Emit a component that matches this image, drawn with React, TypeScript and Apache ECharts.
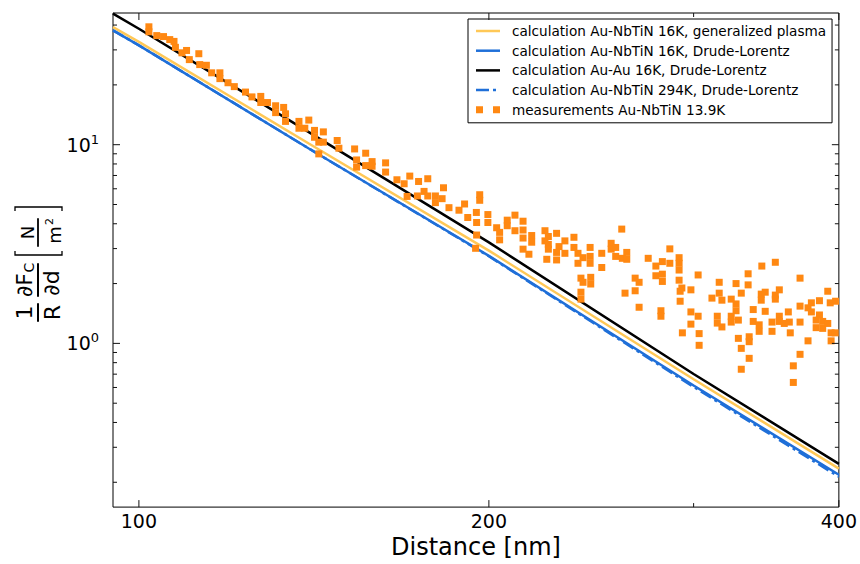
import React, { useEffect, useRef } from 'react';
import * as echarts from 'echarts';

const FONT = 'DejaVu Sans';

const X_MIN = 95;
const X_MAX = 400;
const Y_MIN = 0.15;
const Y_MAX = 46;

// calculated curves (distance in nm, pressure gradient in N/m^2 per R)
const calcDistance = [95, 100, 140, 200, 300, 400];
const plasma16K = [39.08, 32.92, 10.14, 2.931, 0.66, 0.2344];
const drude16K = [37.63, 31.62, 9.57, 2.757, 0.614, 0.2181];
const auAu16K = [45.7, 38.32, 11.56, 3.224, 0.7015, 0.2474];
const drude294K = [37.63, 31.62, 9.57, 2.744, 0.604, 0.2131];

// measurements Au-NbTiN 13.9K
const measDistance = [
  102.0, 102.0, 103.6, 105.0, 106.3, 107.2, 107.5, 108.9, 109.9, 110.5,
  112.6, 112.8, 114.3, 115.5, 117.4, 117.4, 119.3, 120.8, 123.5, 125.1,
  127.3, 127.3, 129.0, 131.1, 131.1, 133.2, 133.7, 133.7, 137.3, 137.3,
  138.9, 140.0, 141.6, 141.6, 144.1, 144.1, 142.8, 142.8, 148.1, 148.6,
  153.3, 153.9, 153.9, 156.7, 156.7, 158.7, 158.7, 163.0, 163.0, 166.7,
  169.1, 171.0, 170.1, 174.0, 177.2, 175.9, 173.6, 177.2, 182.8, 179.9,
  179.9, 182.3, 184.8, 188.5, 190.6, 191.8, 195.1, 196.4, 196.4, 195.2,
  195.2, 194.8, 199.6, 199.6, 203.1, 204.3, 204.3, 207.4, 207.4, 210.6,
  210.6, 214.0, 214.0, 214.0, 214.0, 216.5, 217.7, 217.7, 223.5, 223.5,
  225.0, 225.0, 225.0, 224.3, 228.7, 229.8, 228.7, 228.7, 232.5, 232.5,
  236.7, 236.7, 238.6, 238.6, 241.0, 244.4, 244.4, 244.4, 240.0, 241.0,
  240.0, 240.0, 244.7, 244.7, 260.2, 254.8, 254.8, 250.1, 250.1, 257.1,
  257.1, 260.5, 262.8, 262.8, 267.2, 269.3, 261.9, 267.2, 269.3, 274.2,
  278.4, 278.4, 282.0, 282.0, 282.0, 286.2, 286.2, 291.5, 291.5, 291.5,
  291.5, 293.1, 292.1, 292.1, 281.2, 281.2, 302.7, 298.4, 298.4, 298.4,
  302.7, 293.4, 303.3, 303.3, 311.1, 314.4, 314.4, 315.6, 315.6, 317.3,
  317.3, 323.2, 326.3, 326.3, 326.3, 323.2, 323.2, 327.8, 327.8, 329.7,
  329.7, 329.7, 334.2, 334.2, 334.9, 334.9, 334.9, 337.6, 337.6, 341.6,
  341.6, 343.4, 343.0, 345.7, 343.0, 345.7, 350.4, 350.4, 352.7, 352.7,
  352.7, 355.5, 355.5, 355.5, 359.0, 361.9, 363.3, 362.6, 365.5, 365.5,
  370.4, 370.4, 370.4, 370.4, 376.3, 376.3, 378.8, 378.8, 384.9, 384.9,
  382.4, 382.4, 387.4, 387.4, 391.3, 391.3, 393.2, 393.9, 393.9, 397.4,
  397.1,
];
const measForce = [
  39.2, 37.0, 35.4, 35.0, 33.8, 33.1, 30.9, 29.0, 29.8, 26.8,
  28.7, 25.3, 25.1, 23.0, 23.0, 21.5, 20.5, 19.6, 18.4, 17.4,
  17.5, 16.3, 16.3, 15.7, 14.5, 15.4, 14.3, 13.1, 13.1, 12.1,
  12.1, 13.3, 11.8, 10.9, 11.6, 10.3, 10.3, 8.99, 10.5, 9.6,
  9.52, 8.38, 7.71, 9.06, 7.85, 8.22, 7.79, 8.1, 7.28, 6.66,
  6.36, 6.95, 5.49, 6.53, 6.74, 5.82, 5.52, 5.52, 6.07, 5.52,
  5.11, 5.35, 4.82, 4.68, 5.03, 4.3, 4.56, 5.6, 5.25, 4.06,
  3.51, 3.01, 4.45, 4.06, 3.82, 3.62, 3.32, 4.17, 3.91, 4.42,
  3.69, 4.12, 3.72, 3.39, 2.98, 2.81, 3.49, 3.23, 3.69, 3.28,
  3.45, 3.15, 2.98, 2.65, 3.58, 3.07, 2.87, 2.63, 3.28, 2.84,
  3.42, 3.04, 2.84, 2.53, 2.7, 3.04, 2.74, 2.53, 2.13, 2.03,
  1.81, 1.67, 2.15, 1.99, 3.76, 3.19, 2.98, 2.84, 2.41, 3.04,
  2.74, 2.68, 2.87, 2.65, 2.13, 2.03, 1.79, 1.84, 1.52, 2.68,
  2.45, 2.19, 2.58, 2.23, 2.05, 2.99, 2.53, 2.7, 2.53, 2.34,
  2.08, 1.9, 1.83, 1.63, 1.46, 1.37, 2.21, 1.86, 1.44, 1.25,
  1.37, 1.13, 1.12, 0.978, 1.69, 1.37, 1.265, 2.03, 1.79, 1.65,
  1.21, 1.67, 2.0, 1.58, 1.46, 1.37, 1.28, 1.31, 1.06, 1.79,
  0.944, 0.741, 2.24, 1.97, 1.08, 1.02, 0.841, 1.48, 1.29, 1.24,
  1.15, 2.45, 1.77, 1.81, 1.65, 1.45, 1.28, 1.15, 2.56, 1.75,
  1.67, 1.86, 1.37, 1.29, 1.26, 1.44, 1.13, 1.28, 0.771, 0.636,
  2.13, 1.54, 1.28, 0.881, 1.03, 1.51, 1.6, 1.44, 1.64, 1.39,
  1.31, 1.2, 1.29, 1.19, 1.83, 1.26, 1.6, 1.13, 1.03, 1.63,
  1.13,
];

// ticks
const xTickLabels = [100, 200, 400];
const xMajorTicks = [100, 200, 400];
const xMinorTicks = [300];
const yTickLabels = [1, 10];
const yMajorTicks = [1, 10];
const yMinorTicks = [0.2, 0.3, 0.4, 0.5, 0.6, 0.7, 0.8, 0.9, 2, 3, 4, 5, 6, 7, 8, 9, 20, 30, 40];

const NAMES = [
  'calculation Au-NbTiN 16K, generalized plasma',
  'calculation Au-NbTiN 16K, Drude-Lorentz',
  'calculation Au-Au 16K, Drude-Lorentz',
  'calculation Au-NbTiN 294K, Drude-Lorentz',
  'measurements Au-NbTiN 13.9K',
];

const YELLOW = '#ffc857';
const BLUE = '#1f6fd8';
const ORANGE = '#ff8812';

const MAJOR_LEN = 7;
const MINOR_LEN = 4;

// legend handle shapes (24 x 7 box)
const ICON_SOLID = 'path://M0,0 M0,2.25H24V4.75H0Z M24,7';
const ICON_DASHDOT = 'path://M0,0 M0,2.25H13V4.75H0Z M17,2.25H20V4.75H17Z M24,7';
const ICON_SQUARES = 'path://M0,0H7V7H0Z M17,0H24V7H17Z';

function pairs(xs: number[], ys: number[]) {
  return xs.map((x, i) => [x, ys[i]]);
}

function lineSeries(name: string, ys: number[], color: string, type: any) {
  return {
    name,
    type: 'line',
    data: pairs(calcDistance, ys),
    symbol: 'none',
    showSymbol: false,
    smooth: false,
    lineStyle: { color, width: 2.5, type },
    itemStyle: { color },
    z: 2,
  };
}

export default function App() {
  const ref = useRef<HTMLDivElement>(null);
  useEffect(() => {
    document.body.style.margin = '0';
    const chart = echarts.init(ref.current!, null, { renderer: 'svg' });

    const yTickData = [
      ...yMajorTicks.map((v) => [X_MIN, v, MAJOR_LEN]),
      ...yMinorTicks.map((v) => [X_MIN, v, MINOR_LEN]),
    ];
    const xTickData = [
      ...xMajorTicks.map((v) => [v, Y_MIN, MAJOR_LEN]),
      ...xMinorTicks.map((v) => [v, Y_MIN, MINOR_LEN]),
    ];
    const tickStyle = { stroke: '#111', lineWidth: 1 };

    const option: any = {
      animation: false,
      backgroundColor: '#fff',
      textStyle: { fontFamily: FONT },
      grid: {
        left: 113,
        top: 13,
        right: 20,
        bottom: 54,
        show: true,
        borderColor: '#000',
        borderWidth: 1,
        backgroundColor: 'transparent',
        containLabel: false,
      },
      xAxis: {
        type: 'log',
        logBase: 10,
        min: X_MIN,
        max: X_MAX,
        name: 'Distance [nm]',
        nameLocation: 'middle',
        nameGap: 26,
        nameTextStyle: { fontSize: 24, color: '#000', fontFamily: FONT },
        axisLine: { show: false },
        axisTick: { show: false },
        splitLine: { show: false },
        minorTick: { show: false },
        axisLabel: {
          customValues: xTickLabels,
          margin: 4,
          fontSize: 19,
          color: '#000',
          fontFamily: FONT,
          formatter: (v: number) => String(Math.round(v)),
        },
      },
      yAxis: {
        type: 'log',
        logBase: 10,
        min: Y_MIN,
        max: Y_MAX,
        axisLine: { show: false },
        axisTick: { show: false },
        splitLine: { show: false },
        minorTick: { show: false },
        axisLabel: {
          customValues: yTickLabels,
          margin: 14,
          formatter: (v: number) => `{b|10}{s|${Math.round(Math.log10(v))}}`,
          rich: {
            b: { fontSize: 19, color: '#000', fontFamily: FONT, lineHeight: 24 },
            s: { fontSize: 13, color: '#000', fontFamily: FONT, verticalAlign: 'top', lineHeight: 24 },
          },
        },
      },
      legend: {
        orient: 'vertical',
        left: 468,
        top: 19,
        data: [
          { name: NAMES[0], icon: ICON_SOLID, itemStyle: { color: YELLOW } },
          { name: NAMES[1], icon: ICON_SOLID, itemStyle: { color: BLUE } },
          { name: NAMES[2], icon: ICON_SOLID, itemStyle: { color: '#000' } },
          { name: NAMES[3], icon: ICON_DASHDOT, itemStyle: { color: BLUE } },
          { name: NAMES[4], icon: ICON_SQUARES, itemStyle: { color: ORANGE } },
        ],
        backgroundColor: '#fff',
        borderColor: '#000',
        borderWidth: 1,
        borderRadius: 0,
        padding: [5, 6, 6, 8],
        itemWidth: 24,
        itemHeight: 7,
        itemGap: 5.7,
        selectedMode: false,
        itemStyle: { borderWidth: 0 },
        lineStyle: { width: 0 },
        textStyle: { fontSize: 13.6, color: '#000', fontFamily: FONT, lineHeight: 14, padding: [0, 0, 0, 7] },
      },
      graphic: [
        {
          type: 'group',
          x: 38,
          y: 265,
          rotation: Math.PI / 2,
          silent: true,
          children: [
            { type: 'text', x: -47.5, y: -14, style: { text: '1', fontSize: 22, fontFamily: FONT, fill: '#000', align: 'center', verticalAlign: 'middle' } },
            { type: 'rect', shape: { x: -56.7, y: -1, width: 18.4, height: 2 }, style: { fill: '#000' } },
            { type: 'text', x: -47.5, y: 14, style: { text: 'R', fontSize: 22, fontFamily: FONT, fill: '#000', align: 'center', verticalAlign: 'middle' } },
            { type: 'text', x: -8, y: -14, style: { text: '∂F', fontSize: 22, fontFamily: FONT, fill: '#000', align: 'right', verticalAlign: 'middle' } },
            { type: 'text', x: -7.5, y: -9.5, style: { text: 'C', fontSize: 14, fontFamily: FONT, fill: '#000', align: 'left', verticalAlign: 'middle' } },
            { type: 'rect', shape: { x: -31.7, y: -1, width: 33.4, height: 2 }, style: { fill: '#000' } },
            { type: 'text', x: -18, y: 13, style: { text: '∂d', fontSize: 22, fontFamily: FONT, fill: '#000', align: 'center', verticalAlign: 'middle' } },
            { type: 'polyline', shape: { points: [[14, -23], [10, -23], [10, 24], [14, 24]] }, style: { stroke: '#000', lineWidth: 1.3, fill: null } },
            { type: 'text', x: 32.5, y: -11, style: { text: 'N', fontSize: 18, fontFamily: FONT, fill: '#000', align: 'center', verticalAlign: 'middle' } },
            { type: 'rect', shape: { x: 18.3, y: -0.9, width: 28.4, height: 1.8 }, style: { fill: '#000' } },
            { type: 'text', x: 30, y: 16, style: { text: 'm', fontSize: 18, fontFamily: FONT, fill: '#000', align: 'center', verticalAlign: 'middle' } },
            { type: 'text', x: 40, y: 11, style: { text: '2', fontSize: 11, fontFamily: FONT, fill: '#000', align: 'left', verticalAlign: 'middle' } },
            { type: 'polyline', shape: { points: [[54, -23], [58, -23], [58, 24], [54, 24]] }, style: { stroke: '#000', lineWidth: 1.3, fill: null } },
          ],
        },
      ],
      series: [
        lineSeries(NAMES[0], plasma16K, YELLOW, 'solid'),
        lineSeries(NAMES[1], drude16K, BLUE, 'solid'),
        lineSeries(NAMES[2], auAu16K, '#000', 'solid'),
        lineSeries(NAMES[3], drude294K, BLUE, [12, 4, 3, 4]),
        {
          name: NAMES[4],
          type: 'scatter',
          data: pairs(measDistance, measForce),
          symbol: 'rect',
          symbolSize: 7,
          itemStyle: { color: ORANGE, opacity: 1 },
          z: 3,
        },
        {
          type: 'custom',
          name: 'yticks',
          coordinateSystem: 'cartesian2d',
          silent: true,
          clip: false,
          encode: { x: 0, y: 1 },
          data: yTickData,
          z: 6,
          renderItem: (_p: any, api: any) => {
            const v = api.value(1);
            const len = api.value(2);
            const l = api.coord([X_MIN, v]);
            const r = api.coord([X_MAX, v]);
            return {
              type: 'group',
              children: [
                { type: 'line', shape: { x1: l[0], y1: l[1], x2: l[0] + len, y2: l[1] }, style: tickStyle },
                { type: 'line', shape: { x1: r[0], y1: r[1], x2: r[0] - len, y2: r[1] }, style: tickStyle },
              ],
            };
          },
        },
        {
          type: 'custom',
          name: 'xticks',
          coordinateSystem: 'cartesian2d',
          silent: true,
          clip: false,
          encode: { x: 0, y: 1 },
          data: xTickData,
          z: 6,
          renderItem: (_p: any, api: any) => {
            const v = api.value(0);
            const len = api.value(2);
            const b = api.coord([v, Y_MIN]);
            const t = api.coord([v, Y_MAX]);
            return {
              type: 'group',
              children: [
                { type: 'line', shape: { x1: b[0], y1: b[1], x2: b[0], y2: b[1] - len }, style: tickStyle },
                { type: 'line', shape: { x1: t[0], y1: t[1], x2: t[0], y2: t[1] + len }, style: tickStyle },
              ],
            };
          },
        },
      ],
    };
    chart.setOption(option);
    return () => chart.dispose();
  }, []);
  return <div ref={ref} style={{ position: 'absolute', left: 0, top: 0, width: 860, height: 564 }} />;
}
